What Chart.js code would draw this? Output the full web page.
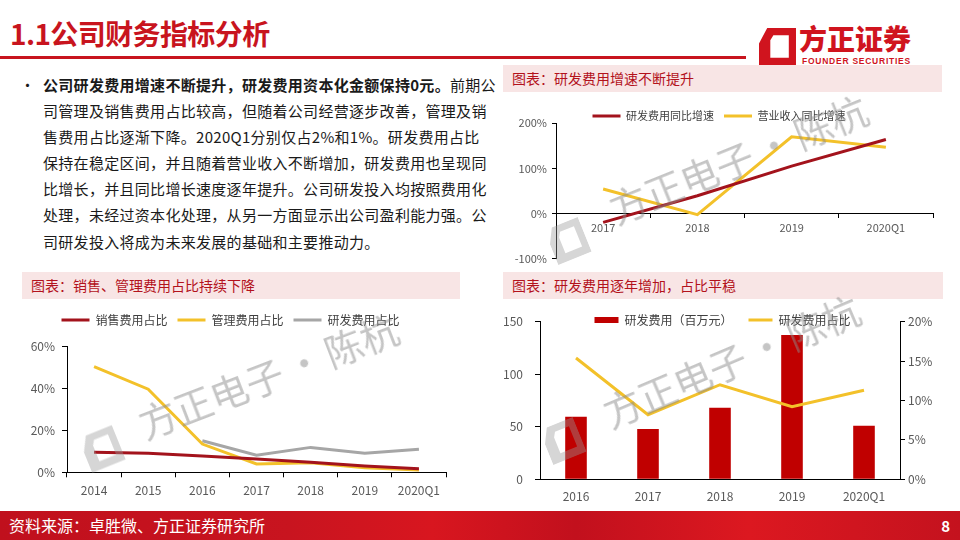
<!DOCTYPE html>
<html><head><meta charset="utf-8">
<script src="https://cdn.jsdelivr.net/npm/chart.js@4.4.0/dist/chart.umd.min.js"></script>
<style>
*{box-sizing:border-box}
html,body{margin:0;padding:0}
body{width:960px;height:540px;position:relative;overflow:hidden;background:#fff;font-family:"Noto Sans CJK SC","Noto Sans",sans-serif;}
.title{position:absolute;left:10px;top:13px;font-size:28px;font-weight:700;color:#c8141e;line-height:40px;letter-spacing:-0.6px;white-space:nowrap}
.rule{position:absolute;left:0;top:56px;width:746px;height:3px;background:#c8141e}
.logo{position:absolute;left:759px;top:28px}
.brand{position:absolute;left:799px;top:21px;font-size:28px;font-weight:900;color:#d0141e;line-height:34px;white-space:nowrap}
.brand-en{position:absolute;left:802px;top:56px;font-size:8.5px;font-weight:700;color:#d0141e;font-family:"Liberation Sans",Arial,sans-serif;letter-spacing:0.75px;line-height:10px;white-space:nowrap}
.body{position:absolute;left:43px;top:72px;font-size:15px;line-height:26.1px;color:#1a1a1a;white-space:nowrap;letter-spacing:0.3px}
.bullet{position:absolute;left:20px;top:72px;font-size:15px;line-height:26.1px;color:#1a1a1a}
.hdr{position:absolute;height:27px;background:#f8e5e5;color:#b3121c;font-size:14px;line-height:27px;padding-left:9px;white-space:nowrap}
.cw{position:absolute}
.wm{position:absolute;transform:translate(-50%,-50%) rotate(-22deg);font-size:38px;letter-spacing:0;word-spacing:-4px;color:rgba(140,140,140,0.5);white-space:nowrap;pointer-events:none;line-height:46px}
.wml{position:absolute;pointer-events:none;opacity:0.4}
.footer{position:absolute;left:0;top:511px;width:960px;height:29px;background:linear-gradient(90deg,#c0101d 0%,#c8141f 30%,#d8161f 45%,#c2101d 60%,#dc1820 78%,#c4121e 100%);color:#fff}
.src{position:absolute;left:9px;top:0;font-size:16px;line-height:29px;white-space:nowrap}
.pg{position:absolute;right:10px;top:0;font-size:15px;line-height:29px;font-weight:700}
</style></head>
<body>
<div class="title">1.1公司财务指标分析</div>
<div class="rule"></div>
<svg class="logo" width="37" height="38" viewBox="0 0 36 37"><path fill="#d0141e" fill-rule="evenodd" d="M8 0 H36 V37 H0 V15 Z M14 7 L29 7 L29 29 L11 29 L11 12 Z"/></svg>
<div class="brand">方正证券</div>
<div class="brand-en">FOUNDER SECURITIES</div>

<div class="bullet">•</div>
<div class="body"><b>公司研发费用增速不断提升，研发费用资本化金额保持0元。</b>前期公<br>司管理及销售费用占比较高，但随着公司经营逐步改善，管理及销<br>售费用占比逐渐下降。2020Q1分别仅占2%和1%。研发费用占比<br>保持在稳定区间，并且随着营业收入不断增加，研发费用也呈现同<br>比增长，并且同比增长速度逐年提升。公司研发投入均按照费用化<br>处理，未经过资本化处理，从另一方面显示出公司盈利能力强。公<br>司研发投入将成为未来发展的基础和主要推动力。</div>

<div class="hdr" style="left:503px;top:65px;width:439px">图表：研发费用增速不断提升</div>
<div class="hdr" style="left:22px;top:272px;width:438px">图表：销售、管理费用占比持续下降</div>
<div class="hdr" style="left:503px;top:272px;width:440px">图表：研发费用逐年增加，占比平稳</div>

<div class="cw" style="left:505px;top:95px;width:440px;height:175px"><canvas id="c1"></canvas></div>
<div class="cw" style="left:15px;top:300px;width:450px;height:210px"><canvas id="c2"></canvas></div>
<div class="cw" style="left:500px;top:296px;width:445px;height:214px"><canvas id="c3"></canvas></div>

<svg class="wml" style="left:550px;top:222px;transform:rotate(-22deg)" width="36" height="38" viewBox="0 0 36 37"><path fill="#999" fill-rule="evenodd" d="M8 0 H36 V37 H0 V15 Z M14 7 L29 7 L29 29 L11 29 L11 12 Z"/></svg>
<svg class="wml" style="left:84px;top:430px;transform:rotate(-22deg)" width="36" height="38" viewBox="0 0 36 37"><path fill="#999" fill-rule="evenodd" d="M8 0 H36 V37 H0 V15 Z M14 7 L29 7 L29 29 L11 29 L11 12 Z"/></svg>
<svg class="wml" style="left:545px;top:422px;transform:rotate(-22deg)" width="36" height="38" viewBox="0 0 36 37"><path fill="#999" fill-rule="evenodd" d="M8 0 H36 V37 H0 V15 Z M14 7 L29 7 L29 29 L11 29 L11 12 Z"/></svg>
<div class="wm" style="left:738px;top:158px">方正电子 · 陈杭</div>
<div class="wm" style="left:268px;top:375px;transform:translate(-50%,-50%) rotate(-21deg)">方正电子 · 陈杭</div>
<div class="wm" style="left:731px;top:360px;transform:translate(-50%,-50%) rotate(-23deg)">方正电子 · 陈杭</div>

<div class="footer"><div class="src">资料来源：卓胜微、方正证券研究所</div><div class="pg">8</div></div>

<script>
// ---- data ----
const growthCats = ['2017', '2018', '2019', '2020Q1'];
const rdGrowth = [-20, 39, 105, 164];      // 研发费用同比增速 (%)
const revGrowth = [54, -3, 170, 147];      // 营业收入同比增速 (%)
const growthTicks = [-100, 0, 100, 200];

const ratioCats = ['2014', '2015', '2016', '2017', '2018', '2019', '2020Q1'];
const salesRatio = [9.6, 9.1, 7.8, 6.4, 4.8, 3.0, 1.7];     // 销售费用占比 (%)
const adminRatio = [50.5, 39.7, 13.5, 4.0, 4.6, 2.2, 1.1];  // 管理费用占比 (%)
const rdRatio = [null, null, 15.1, 8.2, 11.9, 9.1, 11.0];   // 研发费用占比 (%)
const ratioTicks = [0, 20, 40, 60];

const rdCats = ['2016', '2017', '2018', '2019', '2020Q1'];
const rdExpense = [59.6, 47.9, 68.2, 137.3, 51.0];  // 研发费用（百万元）
const rdShare = [15.4, 8.2, 12.0, 9.2, 11.3];       // 研发费用占比 (%)
const rdLeftTicks = [0, 50, 100, 150];
const rdRightTicks = [0, 5, 10, 15, 20];

// ---- styles ----
const RED_LINE = '#a3131c';
const BAR_RED = '#c00000';
const YELLOW = '#f3c12a';
const GRAY = '#a6a6a6';
const TICK = '#595959';
const LEG = '#404040';
Chart.defaults.font.family = '"Noto Sans CJK SC","Noto Sans",sans-serif';
Chart.defaults.color = TICK;

function legendH(h) {
  return {
    id: 'legendH',
    beforeLayout(chart) {
      const lg = chart.legend;
      if (lg && !lg._patched) {
        const f = lg.fit;
        lg.fit = function () { f.call(this); this.height = h; };
        const d = lg.draw;
        lg.draw = function () {
          const b = this.bottom, hh = this.height;
          this.bottom = b + 30; this.height = hh + 30;
          d.call(this);
          this.bottom = b; this.height = hh;
        };
        lg._patched = true;
      }
    }
  };
}
function lineDs(label, data, color) {
  return { type: 'line', label, data, borderColor: color, backgroundColor: color, borderWidth: 3,
    pointRadius: 0, pointHoverRadius: 0, pointBorderWidth: 3, pointStyle: 'line', tension: 0, fill: false, order: 1 };
}
const pct = v => v + '%';

// Chart 1
new Chart(document.getElementById('c1'), {
  type: 'line',
  data: { labels: growthCats, datasets: [
    lineDs('研发费用同比增速', rdGrowth, RED_LINE),
    lineDs('营业收入同比增速', revGrowth, YELLOW)
  ]},
  options: {
    responsive: true, maintainAspectRatio: false, animation: false,
    layout: { padding: { top: 5.5, bottom: 10, left: 0, right: 12 } },
    plugins: {
      legend: { position: 'top', labels: { usePointStyle: true, pointStyleWidth: 28, padding: 10, font: { size: 11 }, color: LEG } },
      tooltip: { enabled: false }
    },
    scales: {
      x: { position: { y: 0 }, offset: true,
        grid: { drawOnChartArea: false, offset: true, tickLength: 4, color: '#000' },
        border: { color: '#000', width: 1 },
        ticks: { padding: 4, font: { size: 11 }, color: TICK, maxRotation: 0 } },
      y: { min: -100, max: 200,
        afterBuildTicks: s => { s.ticks = growthTicks.map(v => ({ value: v })); },
        ticks: { callback: pct, padding: 5, font: { size: 11 }, color: TICK },
        grid: { drawOnChartArea: false, tickLength: 4, color: '#000' },
        border: { color: '#000', width: 1 },
        afterFit(s) { s.width = 51; } }
    }
  },
  plugins: [legendH(22.8)]
});

// Chart 2
new Chart(document.getElementById('c2'), {
  type: 'line',
  data: { labels: ratioCats, datasets: [
    lineDs('销售费用占比', salesRatio, RED_LINE),
    lineDs('管理费用占比', adminRatio, YELLOW),
    lineDs('研发费用占比', rdRatio, GRAY)
  ]},
  options: {
    responsive: true, maintainAspectRatio: false, animation: false,
    layout: { padding: { top: 4, bottom: 0, left: 0, right: 19 } },
    plugins: {
      legend: { position: 'top', labels: { usePointStyle: true, pointStyleWidth: 28, padding: 10, font: { size: 12 }, color: LEG } },
      tooltip: { enabled: false }
    },
    scales: {
      x: { offset: true,
        grid: { drawOnChartArea: false, offset: true, tickLength: 5, color: '#000' },
        border: { color: '#000', width: 1 },
        ticks: { padding: 6, font: { size: 12 }, color: TICK, maxRotation: 0 },
        afterFit(s) { s.height = 37.7; } },
      y: { min: 0, max: 60,
        afterBuildTicks: s => { s.ticks = ratioTicks.map(v => ({ value: v })); },
        ticks: { callback: pct, padding: 7, font: { size: 12 }, color: TICK },
        grid: { drawOnChartArea: false, tickLength: 5, color: '#000' },
        border: { color: '#000', width: 1 },
        afterFit(s) { s.width = 52; } }
    }
  },
  plugins: [legendH(42.7)]
});

// Chart 3
new Chart(document.getElementById('c3'), {
  type: 'bar',
  data: { labels: rdCats, datasets: [
    { type: 'bar', label: '研发费用（百万元）', data: rdExpense, backgroundColor: BAR_RED, borderWidth: 0,
      pointStyle: 'rect', barPercentage: 0.3, categoryPercentage: 1, yAxisID: 'y', order: 2 },
    Object.assign(lineDs('研发费用占比', rdShare, YELLOW), { yAxisID: 'y1' })
  ]},
  options: {
    responsive: true, maintainAspectRatio: false, animation: false,
    layout: { padding: { top: 2, bottom: 0, left: 0, right: 0 } },
    plugins: {
      legend: { position: 'top', labels: { usePointStyle: true, pointStyleWidth: 24, boxHeight: 6, padding: 16,
        font: { size: 12 }, color: LEG, sort: (a, b) => a.datasetIndex - b.datasetIndex } },
      tooltip: { enabled: false }
    },
    scales: {
      x: { offset: true,
        grid: { drawOnChartArea: false, drawTicks: false, color: '#000' },
        border: { color: '#000', width: 1 },
        ticks: { padding: 10, font: { size: 12 }, color: TICK, maxRotation: 0 },
        afterFit(s) { s.height = 30.7; } },
      y: { position: 'left', min: 0, max: 150,
        afterBuildTicks: s => { s.ticks = rdLeftTicks.map(v => ({ value: v })); },
        ticks: { padding: 12, font: { size: 12 }, color: TICK },
        grid: { drawOnChartArea: false, tickLength: 5, color: '#000' },
        border: { color: '#000', width: 1 },
        afterFit(s) { s.width = 40; } },
      y1: { position: 'right', min: 0, max: 20,
        afterBuildTicks: s => { s.ticks = rdRightTicks.map(v => ({ value: v })); },
        ticks: { callback: pct, padding: 3, font: { size: 12 }, color: TICK },
        grid: { drawOnChartArea: false, tickLength: 5, color: '#000' },
        border: { color: '#000', width: 1 },
        afterFit(s) { s.width = 45; } }
    }
  },
  plugins: [legendH(23.7)]
});
</script>
</body></html>
